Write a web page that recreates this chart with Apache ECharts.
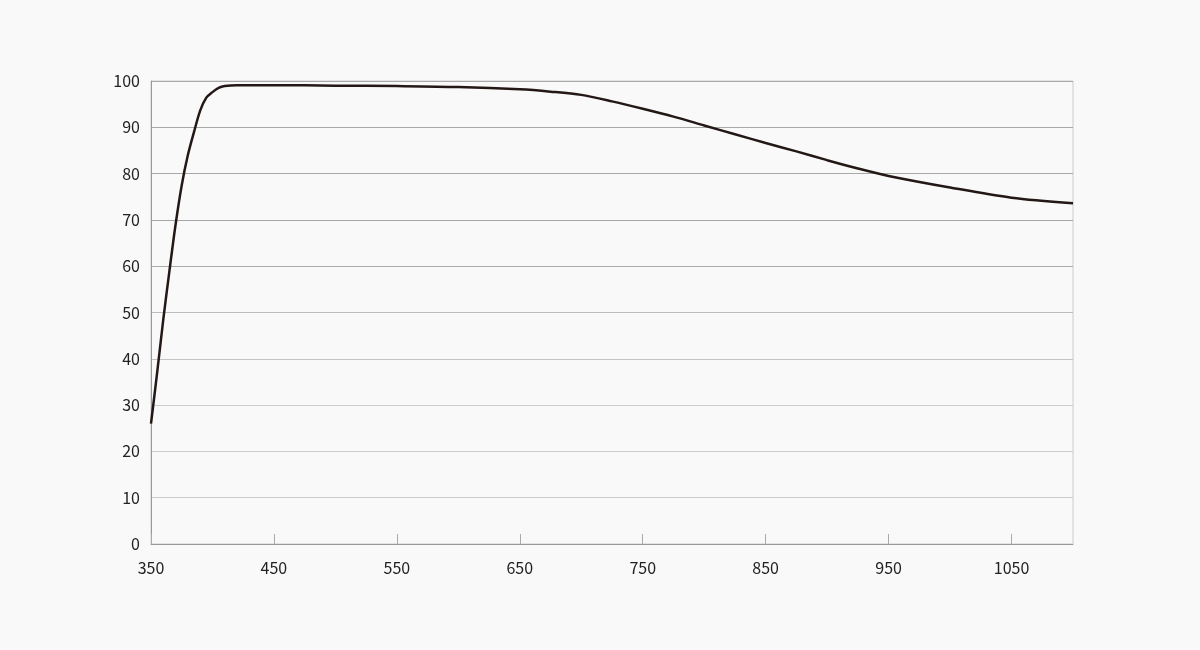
<!DOCTYPE html>
<html>
<head>
<meta charset="utf-8">
<script src="https://cdn.jsdelivr.net/npm/echarts@6/dist/echarts.min.js"></script>
<style>
html,body{margin:0;padding:0;background:#f9f9f9;}
#chart{width:1200px;height:650px;}
</style>
</head>
<body>
<div id="chart"></div>
<script>
const wavelengths = [350,355,360,365,370,375,380,385,390,395,400,405,410,420,450,500,550,600,650,675,700,725,750,775,800,825,850,875,900,925,950,1000,1050,1100];
const transmittance = [26,37,48.5,59,69,77.5,84,89,93.6,96.4,97.6,98.5,98.9,99.1,99.1,99.0,98.9,98.7,98.2,97.7,97.0,95.6,94.0,92.3,90.4,88.5,86.6,84.8,82.9,81.1,79.5,77.0,74.8,73.6];
const xTicks = [350,450,550,650,750,850,950,1050];
const yTicks = [0,10,20,30,40,50,60,70,80,90,100];

const seriesData = wavelengths.map((w,i)=>[w, transmittance[i]]);
const chart = echarts.init(document.getElementById('chart'), null, {renderer:'canvas'});
const fontFamily = '"Noto Sans CJK SC","Noto Sans",sans-serif';
chart.setOption({
  backgroundColor:'#f9f9f9',
  animation:false,
  grid:{left:151,right:127,top:81,bottom:106,show:true,borderColor:'#cccccc',borderWidth:1,backgroundColor:'transparent'},
  xAxis:{
    type:'value',min:350,max:1100,
    axisLine:{show:true,lineStyle:{color:'#999999',width:1}},
    axisTick:{show:true,inside:true,length:10,lineStyle:{color:'#aaaaaa'},customValues:xTicks},
    axisLabel:{color:'#222222',fontSize:16,fontFamily:fontFamily,margin:16,customValues:xTicks,formatter:v=>String(v)},
    splitLine:{show:false}
  },
  yAxis:{
    type:'value',min:0,max:100,interval:10,
    axisLine:{show:true,lineStyle:{color:'#999999',width:1}},
    axisTick:{show:false},
    axisLabel:{color:'#222222',fontSize:16,fontFamily:fontFamily,margin:11,formatter:v=>yTicks.includes(v)?String(v):''},
    splitLine:{show:true,lineStyle:{color:['#aaaaaa','#cccccc','#cccccc','#cccccc','#c4c4c4','#bdbdbd','#aaaaaa','#a8a8a8','#a8a8a8','#a8a8a8','#a8a8a8'],width:1}}
  },
  series:[{
    type:'line',data:seriesData,smooth:0.3,showSymbol:false,
    lineStyle:{color:'#231815',width:2.5}
  }]
});
</script>
</body>
</html>
